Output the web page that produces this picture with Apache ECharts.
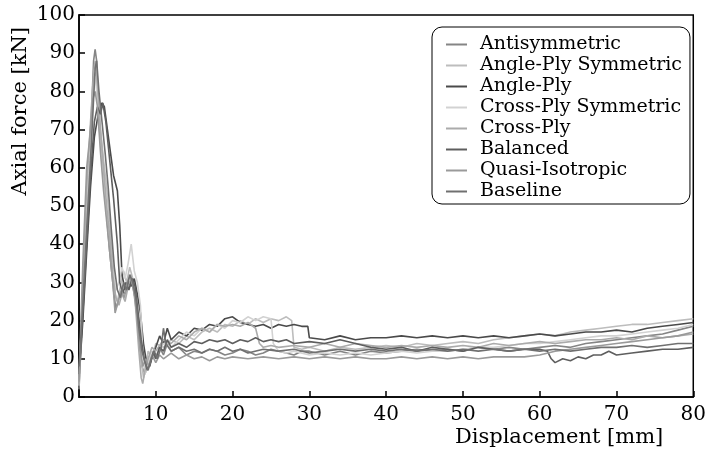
<!DOCTYPE html>
<html><head><meta charset="utf-8">
<script src="https://cdn.jsdelivr.net/npm/echarts@6/dist/echarts.min.js"></script>
<style>html,body{margin:0;padding:0;background:#fff}#c{width:709px;height:453px}</style>
</head><body><div id="c"></div>
<script>
const seriesNames = ["Antisymmetric","Angle-Ply Symmetric","Angle-Ply","Cross-Ply Symmetric","Cross-Ply","Balanced","Quasi-Isotropic","Baseline"];
const xTicks = [10,20,30,40,50,60,70,80];
const yTicks = [0,10,20,30,40,50,60,70,80,90,100];

const antisymmetric = [[0,2],[0.5,25],[1,48],[1.5,68],[1.9,88],[2.1,91],[2.3,88],[2.6,72],[3,62],[3.5,50],[4,38],[4.5,28],[4.8,23],[5.2,26],[5.6,28],[6,27],[6.5,30],[7,29],[7.4,25],[7.8,15],[8.2,8],[8.6,6],[9,9],[9.5,12],[10,10],[10.5,13],[11,11],[11.5,14],[12,12],[13,13],[14,11],[15,12],[16,11.5],[17,12.5],[18,12],[19,11],[20,11.5],[21,12.5],[22,12],[23,11],[24,11.5],[25,12.5],[26,12],[27,11.5],[28,11],[29,12],[30,12],[32,11],[34,12],[36,11],[38,12],[40,11.5],[42,12],[44,12.5],[46,12],[48,12.5],[50,12],[52,13],[54,12.5],[56,13],[58,12.5],[60,13],[62,13.5],[64,13],[66,14],[68,14.5],[70,15],[72,15.5],[74,16],[76,16.5],[78,17.5],[80,18.5]];
const anglePlySymmetric = [[0,3],[0.5,22],[1,45],[1.5,65],[1.9,80],[2.1,85],[2.4,80],[2.8,70],[3.2,62],[3.6,55],[4,45],[4.4,35],[4.7,27],[5,25],[5.4,29],[5.8,33],[6.2,30],[6.6,34],[7,31],[7.4,28],[7.8,20],[8.1,10],[8.4,5],[8.7,8],[9,12],[9.5,10],[10,14],[11,13],[12,15],[13,14],[14,16],[15,15],[16,17],[17,18],[18,17],[19,19],[20,18.5],[21,20],[22,19],[23,20.5],[24,19.5],[25,20.5],[26,20],[27,21],[27.7,20],[28,13],[29,12.5],[30,13],[32,12],[34,13],[36,12.5],[38,13],[40,13.5],[42,13],[44,14],[46,13.5],[48,14],[50,14.5],[52,14],[54,15],[56,15.5],[58,16],[60,16.5],[62,16],[64,17],[66,17.5],[68,18],[70,18.5],[72,19],[74,19],[76,19.5],[78,20],[80,20.5]];
const anglePly = [[0,5],[0.5,20],[1,38],[1.5,55],[2,68],[2.5,74],[3,77],[3.3,76],[3.7,70],[4.1,64],[4.5,58],[5,54],[5.3,45],[5.6,32],[6,28],[6.4,30],[6.8,29],[7.2,31],[7.6,27],[8,22],[8.4,14],[8.8,9],[9.2,8],[9.6,11],[10,13],[10.5,16],[11,14],[11.5,18],[12,15],[13,17],[14,16],[15,18],[16,17.5],[17,19],[18,18.5],[19,20.5],[20,21],[21,19.5],[22,19],[23,18.5],[24,19],[25,18],[26,19],[27,18.5],[28,19],[29,18.5],[29.8,18.5],[30,15.5],[32,15],[34,16],[36,15],[38,15.5],[40,15.5],[42,16],[44,15.5],[46,16],[48,15.5],[50,16],[52,15.5],[54,16],[56,15.5],[58,16],[60,16.5],[62,16],[64,16.5],[66,17],[68,17],[70,17.5],[72,17],[74,18],[76,18.5],[78,19],[80,19.5]];
const crossPlySymmetric = [[0,4],[0.5,28],[1,52],[1.5,70],[1.9,82],[2.1,84],[2.4,78],[2.8,66],[3.2,56],[3.6,48],[4,40],[4.4,33],[4.8,28],[5.2,30],[5.6,34],[6,31],[6.4,35],[6.8,40],[7.2,33],[7.6,30],[8,24],[8.3,12],[8.6,6],[9,9],[9.5,12],[10,11],[11,14],[12,13],[13,15],[14,17],[15,16],[16,18],[17,17],[18,19],[19,18],[20,20],[21,19.5],[22,21],[23,20],[24,21],[25,20.5],[25.3,14],[26,12],[27,11.5],[28,12],[30,11],[32,11.5],[34,11],[36,11.5],[38,11],[40,11.5],[42,12],[44,11.5],[46,12],[48,12],[50,12.5],[52,13],[54,13],[56,13.5],[58,14],[60,14],[62,14.5],[64,15],[66,15.5],[68,16],[70,16],[72,16.5],[74,17],[76,17.5],[78,18],[80,19]];
const crossPly = [[0,3],[0.5,30],[1,55],[1.5,72],[1.9,85],[2.1,88],[2.4,82],[2.8,70],[3.2,60],[3.6,50],[4,42],[4.4,32],[4.8,26],[5.2,24],[5.6,27],[6,25],[6.4,29],[6.8,31],[7.2,28],[7.5,20],[7.8,12],[8.1,5],[8.3,3.5],[8.6,7],[9,10],[9.5,13],[10,12],[11,15],[12,14],[13,16],[14,15],[15,17],[16,18],[17,17],[18,19],[19,18.5],[20,19],[21,18.5],[22,19.5],[23,18],[23.5,14],[24,13],[25,13.5],[26,13],[28,13.5],[30,13],[32,14],[34,13],[36,14],[38,13.5],[40,13],[42,13.5],[44,13],[46,13.5],[48,13],[50,13.5],[52,13],[54,14],[56,13.5],[58,14],[60,14.5],[62,14],[64,14.5],[66,15],[68,15],[70,15.5],[72,15],[74,16],[76,15.5],[78,16],[80,16.5]];
const balanced = [[0,6],[0.5,22],[1,40],[1.5,58],[2,72],[2.4,76],[2.8,74],[3.1,77],[3.5,72],[4,62],[4.5,52],[5,40],[5.3,30],[5.7,27],[6.1,30],[6.5,28],[6.9,31],[7.3,29],[7.7,22],[8.1,15],[8.5,10],[8.9,7],[9.3,9],[9.7,12],[10,10],[10.5,13],[11,12],[11.5,15],[12,13],[13,14],[14,13],[15,14.5],[16,14],[17,15],[18,14.5],[19,15],[20,14],[21,15],[22,14.5],[23,15.5],[24,14.5],[25,15],[26,14.5],[27,15],[28,14],[30,14.5],[32,14],[34,15],[36,14],[38,13],[40,12.5],[42,13],[44,12],[46,13],[48,12.5],[50,12],[52,13],[54,12.5],[56,12],[58,12.5],[60,12.5],[61,12],[61.5,10],[62,9],[63,10],[64,9.5],[65,10.5],[66,10],[67,11],[68,11],[69,12],[70,11],[72,11.5],[74,12],[76,12.5],[78,12.5],[80,13]];
const quasiIsotropic = [[0,4],[0.5,35],[1,60],[1.4,68],[1.8,78],[2.1,80],[2.4,76],[2.8,64],[3.2,54],[3.6,46],[4,38],[4.4,30],[4.7,22],[5.1,25],[5.5,28],[5.9,26],[6.3,30],[6.7,32],[7.1,28],[7.5,22],[7.9,14],[8.3,8],[8.7,10],[9.1,8],[9.5,11],[10,9],[10.5,11],[11,10],[12,11.5],[13,10],[14,11],[15,10],[16,10.5],[17,9.5],[18,10.5],[19,10],[20,10.5],[22,10],[24,10.5],[26,10],[28,10.5],[30,10],[32,10.5],[34,10],[36,10.5],[38,10],[40,10],[42,10.5],[44,10],[46,10.5],[48,10],[50,10.5],[52,10],[54,10.5],[56,10.5],[58,10.5],[60,11],[62,12],[64,12.5],[66,13],[68,13.5],[70,14],[72,14.5],[74,15],[76,15.5],[78,16],[80,17]];
const baseline = [[0,8],[0.5,24],[1,44],[1.5,62],[1.9,78],[2.1,86],[2.3,88],[2.6,80],[3,72],[3.4,64],[3.8,55],[4.2,44],[4.6,34],[5,28],[5.4,26],[5.8,30],[6.2,28],[6.6,32],[7,30],[7.4,26],[7.8,18],[8.2,12],[8.6,9],[9,7],[9.4,10],[9.8,12],[10.2,10],[10.7,13],[11,18],[11.3,14],[12,12],[13,13],[14,12],[15,12.5],[16,11.5],[17,12.5],[18,12],[19,13],[20,12],[21,12.5],[22,11.5],[24,12.5],[26,12],[28,12.5],[30,11.5],[32,12],[34,12.5],[36,12],[38,12.5],[40,12],[42,12.5],[44,12],[46,12.5],[48,12],[50,12.5],[52,12],[54,12.5],[56,12],[58,12.5],[60,12],[62,12.5],[64,12],[66,12.5],[68,13],[70,13],[72,13.5],[74,13],[76,13.5],[78,14],[80,14]];

const seriesData = [antisymmetric, anglePlySymmetric, anglePly, crossPlySymmetric, crossPly, balanced, quasiIsotropic, baseline];
const colors = ["#858585","#bdbdbd","#4a4a4a","#d2d2d2","#ababab","#5e5e5e","#9a9a9a","#707070"];
const FONT = "DejaVu Serif";

const chart = echarts.init(document.getElementById('c'));
chart.setOption({
  animation: false,
  backgroundColor: '#fff',
  textStyle: { fontFamily: FONT },
  grid: { left: 79, right: 10, top: 15, bottom: 56, show: true, borderColor: '#000', borderWidth: 1.5 },
  legend: {
    orient: 'vertical', left: 432, top: 27,
    data: seriesNames,
    icon: 'rect',
    itemWidth: 21, itemHeight: 2, itemGap: 2,
    padding: [8, 8, 3, 14],
    borderColor: '#000', borderWidth: 1, borderRadius: 10,
    textStyle: { fontFamily: FONT, fontSize: 19, lineHeight: 19, color: '#000', padding: [0, 0, 0, 8] }
  },
  xAxis: {
    type: 'value', min: 0, max: 80, interval: 10,
    name: 'Displacement [mm]', nameLocation: 'end', nameGap: -30,
    nameTextStyle: { fontFamily: FONT, fontSize: 21, color: '#000', align: 'right', verticalAlign: 'top', padding: [30, 0, 0, 0] },
    axisLine: { lineStyle: { color: '#000', width: 1.5 } },
    axisTick: { inside: true, length: 6, lineStyle: { color: '#000', width: 1.5 } },
    axisLabel: { showMinLabel: false, fontFamily: FONT, fontSize: 20, color: '#000', margin: 8, formatter: v => xTicks.includes(v) ? String(v) : '' },
    splitLine: { show: false }
  },
  yAxis: {
    type: 'value', min: 0, max: 100, interval: 10,
    name: 'Axial force [kN]', nameLocation: 'end', nameGap: -12, nameRotate: 90,
    nameTextStyle: { fontFamily: FONT, fontSize: 21, color: '#000', align: 'right', verticalAlign: 'bottom', padding: [0, 0, 48, 0] },
    axisLine: { lineStyle: { color: '#000', width: 1.5 } },
    axisTick: { inside: true, length: 6, lineStyle: { color: '#000', width: 1.5 } },
    axisLabel: { fontFamily: FONT, fontSize: 20, color: '#000', margin: 4, formatter: v => yTicks.includes(v) ? String(v) : '' },
    splitLine: { show: false }
  },
  series: seriesNames.map((n, i) => ({
    name: n, type: 'line', data: seriesData[i], symbol: 'none', showSymbol: false,
    lineStyle: { color: colors[i], width: 1.6 }, itemStyle: { color: colors[i] }
  }))
});
</script></body></html>
